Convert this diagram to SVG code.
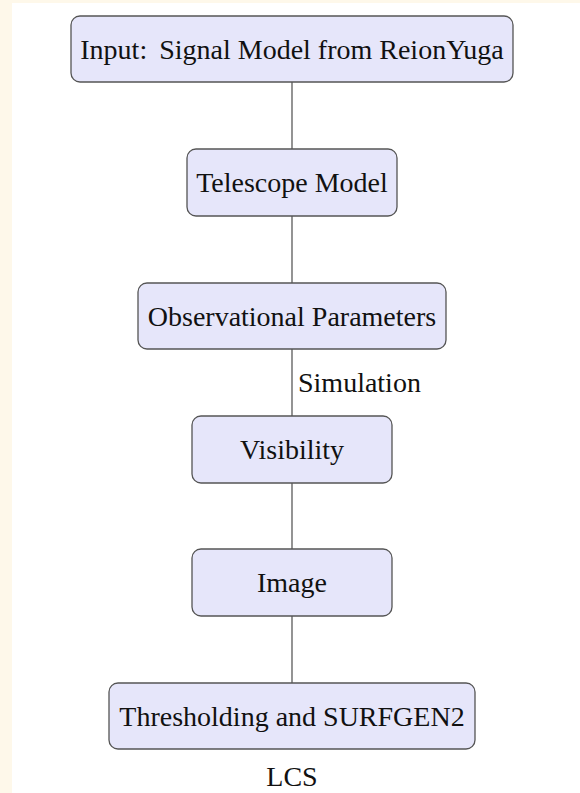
<svg xmlns="http://www.w3.org/2000/svg" width="580" height="793" viewBox="0 0 580 793">
  <style>
    .node rect { fill: #e6e6fa; stroke: #555555; stroke-width: 1.3; }
    .node text, .label { font-family: "Liberation Serif", "Times New Roman", serif; font-size: 28px; fill: #111111; text-anchor: middle; }
    .label.left { text-anchor: start; }
    .edges line { stroke: #666666; stroke-width: 1.4; }
  </style>

  <!-- page background -->
  <rect x="0" y="0" width="580" height="793" fill="#fef8ea"/>
  <rect x="12" y="3" width="568" height="790" fill="#ffffff"/>

  <!-- connectors -->
  <g id="edges" class="edges">
    <line x1="292" y1="82" x2="292" y2="149"/>
    <line x1="292" y1="216" x2="292" y2="283"/>
    <line x1="292" y1="349" x2="292" y2="416"/>
    <line x1="292" y1="483" x2="292" y2="549"/>
    <line x1="292" y1="616" x2="292" y2="683"/>
  </g>

  <g id="input" class="node">
    <rect x="71" y="16" width="442" height="66" rx="9"/>
    <text x="292" y="58.5">Input:<tspan dx="5"> Signal Model from ReionYuga</tspan></text>
  </g>

  <g id="telescope" class="node">
    <rect x="187" y="149" width="210" height="67" rx="9"/>
    <text x="292" y="192">Telescope Model</text>
  </g>

  <g id="observational" class="node">
    <rect x="138" y="283" width="308" height="66" rx="9"/>
    <text x="292" y="325.5">Observational Parameters</text>
  </g>

  <text class="label left" x="298" y="392">Simulation</text>

  <g id="visibility" class="node">
    <rect x="192" y="416" width="200" height="67" rx="9"/>
    <text x="292" y="459">Visibility</text>
  </g>

  <g id="image" class="node">
    <rect x="192" y="549" width="200" height="67" rx="9"/>
    <text x="292" y="592">Image</text>
  </g>

  <g id="thresholding" class="node">
    <rect x="109" y="683" width="366" height="66" rx="9"/>
    <text x="292" y="725.5">Thresholding and SURFGEN2</text>
  </g>

  <text class="label" x="292" y="786">LCS</text>
</svg>
